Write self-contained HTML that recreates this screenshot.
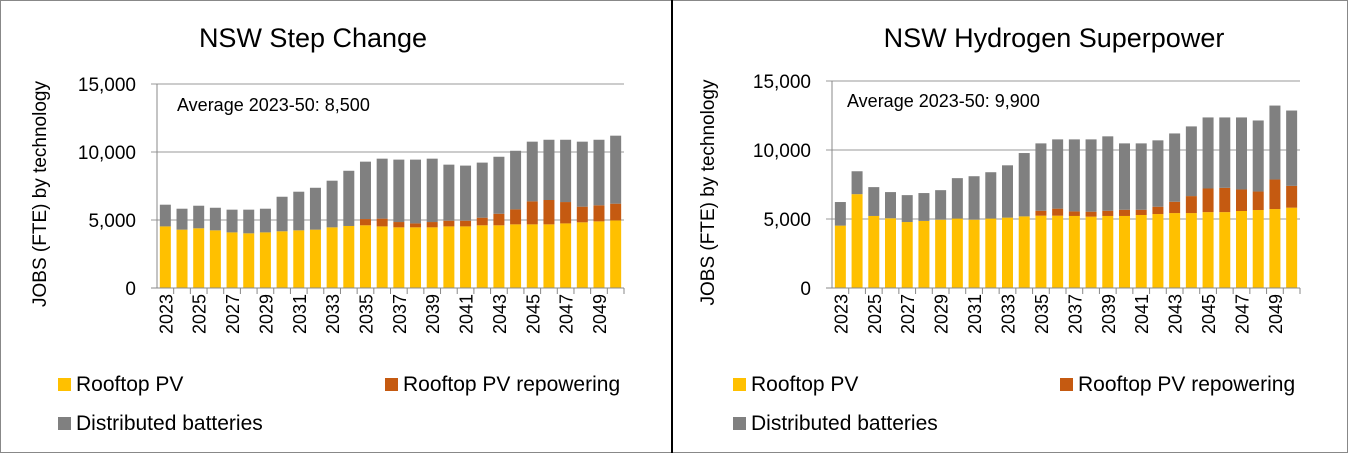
<!DOCTYPE html>
<html><head><meta charset="utf-8"><style>
html,body{margin:0;padding:0;background:#fff;}
svg{display:block;font-family:"Liberation Sans",Calibri,sans-serif;}
</style></head><body>
<svg id="root" width="1348" height="453" viewBox="0 0 1348 453" xmlns="http://www.w3.org/2000/svg">
<rect x="0.5" y="0.5" width="1347" height="452" fill="#fff" stroke="#888"/>
<line x1="672" y1="0" x2="672" y2="453" stroke="#000" stroke-width="2"/>
<g id="left"></g>
<g id="right"></g>
</svg>
<script>
const years = [2023,2024,2025,2026,2027,2028,2029,2030,2031,2032,2033,2034,2035,2036,2037,2038,2039,2040,2041,2042,2043,2044,2045,2046,2047,2048,2049,2050];
const yTicks = [0,5000,10000,15000];
const yTickLabels = ["0","5,000","10,000","15,000"];
const scRooftop = [4530,4290,4390,4240,4090,4020,4090,4170,4240,4290,4460,4560,4610,4530,4460,4460,4460,4530,4530,4610,4610,4680,4680,4680,4750,4830,4900,4970];
const scRepower = [0,0,0,0,0,0,0,0,0,0,0,0,460,570,390,290,390,420,420,560,850,1100,1690,1790,1570,1150,1180,1230];
const scBatteries = [1595,1540,1660,1660,1670,1740,1740,2540,2840,3080,3430,4060,4220,4410,4590,4690,4660,4120,4050,4050,4190,4310,4390,4430,4580,4780,4820,5000];
const hsRooftop = [4520,6800,5220,5050,4780,4860,4950,5030,4950,5030,5100,5190,5240,5240,5220,5170,5220,5220,5290,5360,5430,5430,5500,5500,5580,5650,5720,5820];
const hsRepower = [0,0,0,0,0,0,0,0,0,0,0,0,360,510,330,360,380,450,380,530,820,1230,1710,1760,1560,1340,2140,1580];
const hsBatteries = [1710,1660,2090,1900,1950,2020,2140,2930,3150,3360,3790,4590,4880,5020,5220,5240,5390,4810,4810,4810,4950,5050,5150,5100,5220,5150,5360,5460];

const NS="http://www.w3.org/2000/svg";
function mk(parent,tag,attrs,text){const e=document.createElementNS(NS,tag);for(const k in attrs)e.setAttribute(k,attrs[k]);if(text!==undefined)e.textContent=text;parent.appendChild(e);return e;}

function draw(gid,o){
  const g=document.getElementById(gid);
  const x0=o.x0,x1=o.x1,yb=288,yt=o.yt;
  const ys=v=>yb-(v/15000)*(yb-yt);
  const bw=(x1-x0)/years.length;
  const xs=i=>x0+bw*i+bw/2;
  let t=mk(g,'text',{x:o.cx,y:47,'font-size':27,'text-anchor':'middle',fill:'#000'},o.title);
  
  
  yTicks.forEach((v,i)=>{
    const l=mk(g,'line',{x1:x0-6,x2:x1,y1:ys(v),y2:ys(v),stroke:i===0?'#888':'#999','stroke-width':1});
    
    
    const tl=mk(g,'text',{x:x0-21,y:ys(v)+7,'font-size':19,'text-anchor':'end',fill:'#000'},yTickLabels[i]);
    
    
  });
  const ax=mk(g,'line',{x1:x0,x2:x0,y1:yt,y2:yb,stroke:'#888'});
  
  
  const yt2=mk(g,'text',{transform:`translate(${o.ytx},${(yt+yb)/2+8}) rotate(-90)`,'font-size':19,'text-anchor':'middle',fill:'#000'},'JOBS (FTE) by technology');
  
  
  const av=mk(g,'text',{x:o.avx,y:o.avy,'font-size':18,fill:'#000'},o.avg);
  
  
  const barW=11;
  years.forEach((yr,i)=>{
    let base=0;
    [[o.r,'#ffc000','bar-rooftop-pv'],[o.p,'#c55a11','bar-rooftop-repowering'],[o.b,'#808080','bar-distributed-batteries']].forEach(([arr,c,n])=>{
      const v=arr[i];
      if(v>0){
        const r=mk(g,'rect',{x:xs(i)-barW/2,y:ys(base+v),width:barW,height:ys(base)-ys(base+v),fill:c});
        
        
      }
      base+=v;
    });
    const tk=mk(g,'line',{x1:x0+bw*(i+1),x2:x0+bw*(i+1),y1:yb,y2:yb+6,stroke:'#888'});
    
    
    if(i%2===0){
      const xl=mk(g,'text',{transform:`translate(${xs(i)+7},${yb+6}) rotate(-90)`,'font-size':18,'text-anchor':'end',fill:'#000'},String(yr));
      
      
    }
  });
  const xa=mk(g,'line',{x1:x0,x2:x1,y1:yb,y2:yb,stroke:'#888'});
  
  
  const leg=[['Rooftop PV','#ffc000',o.lx,391],['Rooftop PV repowering','#c55a11',o.lx+327,391],['Distributed batteries','#808080',o.lx,430]];
  leg.forEach(([s,c,x,y])=>{
    const sq=mk(g,'rect',{x:x,y:y-13,width:13,height:13,fill:c});
    
    
    const lt=mk(g,'text',{x:x+18,y:y,'font-size':21,fill:'#000'},s);
    
    
  });
}
draw('left',{x0:157,x1:624,yt:84,cx:313,title:'NSW Step Change',ytx:46,avx:177,avy:111,avg:'Average 2023-50: 8,500',lx:58,r:scRooftop,p:scRepower,b:scBatteries});
draw('right',{x0:832,x1:1300,yt:81,cx:1054,title:'NSW Hydrogen Superpower',ytx:714,avx:847,avy:107,avg:'Average 2023-50: 9,900',lx:733,r:hsRooftop,p:hsRepower,b:hsBatteries});
</script>
</body></html>
